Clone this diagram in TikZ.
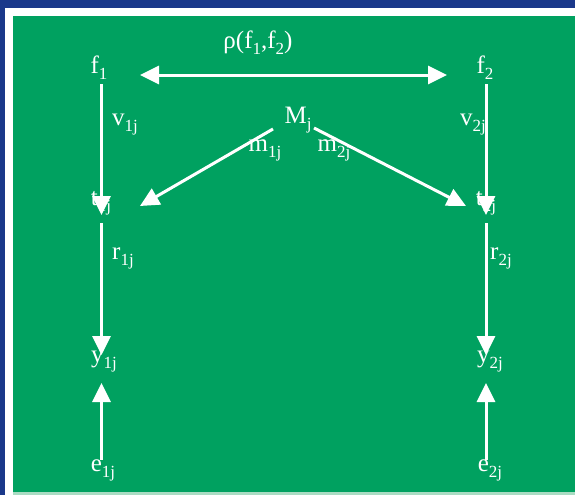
\documentclass[tikz,border=0pt]{standalone}
\usepackage{fontspec}
\setmainfont{Liberation Serif}
\usetikzlibrary{arrows.meta}
\definecolor{frameblue}{RGB}{26,56,138}
\definecolor{bggreen}{RGB}{0,161,96}
\definecolor{palegreen}{RGB}{170,220,195}
\newcommand{\lo}[1]{\raisebox{-6pt}{\fontsize{17}{17}\selectfont #1}}
\tikzset{
  lbl/.style={text=white, inner sep=0pt, font=\fontsize{25}{29}\selectfont},
  arr/.style={draw=white, line width=3pt, -{Triangle[length=19pt,width=18pt]}},
  darr/.style={draw=white, line width=3pt, {Triangle[length=19pt,width=18pt]}-{Triangle[length=19pt,width=18pt]}}
}
\begin{document}
\begin{tikzpicture}[x=1pt,y=-1pt]
\useasboundingbox (0,0) rectangle (575,495);
\fill[frameblue] (0,0) rectangle (575,495);
\fill[white] (5,8) rectangle (575,495);
\fill[bggreen] (13,16) rectangle (575,492);
\fill[palegreen] (13,492) rectangle (575,495);

% labels
\node[lbl] (f1) at (99,68) {f\lo{1}};
\node[lbl] (f2) at (485,68) {f\lo{2}};
\node[lbl] (rho) at (258,43) {ρ(f\lo{1},f\lo{2})};
\node[lbl] (v1) at (125,125) {v\lo{1j}};
\node[lbl] (v2) at (473,125) {v\lo{2j}};
\node[lbl] (M) at (298,120) {M\lo{j}};
\node[lbl] (m1) at (265,150) {m\lo{1j}};
\node[lbl] (m2) at (334,150) {m\lo{2j}};
\node[lbl] (t1) at (101,203) {t\lo{1j}};
\node[lbl] (t2) at (486,203) {t\lo{2j}};
\node[lbl] (r1) at (123,258) {r\lo{1j}};
\node[lbl] (r2) at (501,258) {r\lo{2j}};
\node[lbl] (y1) at (104,362) {y\lo{1j}};
\node[lbl] (y2) at (490,362) {y\lo{2j}};
\node[lbl] (e1) at (103,470) {e\lo{1j}};
\node[lbl] (e2) at (490,470) {e\lo{2j}};

% connector end points
\coordinate (hL) at (140,75);
\coordinate (hR) at (447,75);
\coordinate (f1b) at (101.5,84);
\coordinate (t1a) at (101.5,215);
\coordinate (t1b) at (101.5,223);
\coordinate (y1a) at (101.5,355);
\coordinate (y1b) at (101.5,383);
\coordinate (e1a) at (101.5,460);
\coordinate (f2b) at (486,84);
\coordinate (t2a) at (486,215);
\coordinate (t2b) at (486,223);
\coordinate (y2a) at (486,355);
\coordinate (y2b) at (486,383);
\coordinate (e2a) at (486,460);
\coordinate (ML) at (273,129);
\coordinate (MR) at (314,128);
\coordinate (tipL) at (140,206);
\coordinate (tipR) at (466,206);

% connectors
\draw[darr] (hL) -- (hR);
\draw[arr] (f1b) -- (t1a);
\draw[arr] (t1b) -- (y1a);
\draw[arr] (e1a) -- (y1b);
\draw[arr] (f2b) -- (t2a);
\draw[arr] (t2b) -- (y2a);
\draw[arr] (e2a) -- (y2b);
\draw[arr] (ML) -- (tipL);
\draw[arr] (MR) -- (tipR);
\end{tikzpicture}
\end{document}
